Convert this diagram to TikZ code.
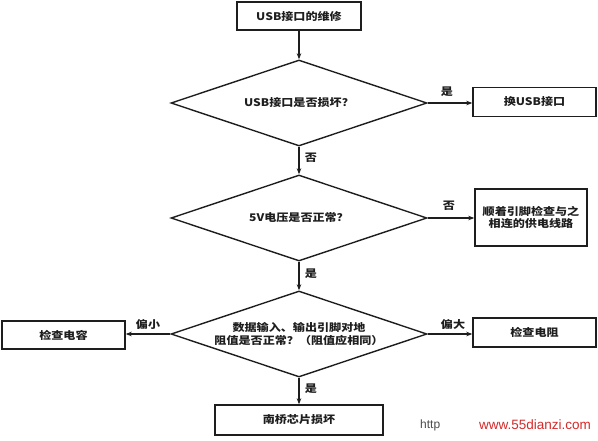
\documentclass[tikz,border=0pt]{standalone}
\usepackage{fontspec}
\setsansfont{Liberation Sans}
\newfontfamily\cjk[FakeStretch=1.15,BoldFeatures={FakeStretch=1.15}]{Noto Sans CJK SC}
\usetikzlibrary{shapes.geometric,arrows.meta}
\definecolor{ink}{HTML}{1E1E1E}
\definecolor{wmred}{HTML}{D42A2A}
\begin{document}
\begin{tikzpicture}[x=1pt,y=-1pt,
  every node/.style={font=\cjk\bfseries\fontsize{10.5pt}{12.5pt}\selectfont, text=ink, inner sep=0pt},
  procbox/.style={draw=ink, line width=1.4pt, rectangle, align=center},
  decision/.style={draw=ink, line width=1.4pt, diamond, aspect=3, minimum width=256pt, minimum height=86pt, align=center},
  flow/.style={draw=ink, line width=1.4pt, -{Stealth[length=6pt,width=4.5pt]}},
  lab/.style={font=\cjk\bfseries\fontsize{10.5pt}{12.5pt}\selectfont}]
\useasboundingbox (0,0) rectangle (598,440);
\fill[white] (0,0) rectangle (598,440);

\node[procbox, minimum width=124pt, minimum height=28pt] (start) at (299,16) {USB接口的维修};
\node[decision] (d1) at (299,103) {USB接口是否损坏？};
\node[procbox, minimum width=123pt, minimum height=29pt] (r1) at (534.5,102) {换USB接口};
\node[decision] (d2) at (299,218) {5V电压是否正常？};
\node[procbox, minimum width=112pt, minimum height=57pt] (r2) at (531,217.5) {顺着引脚检查与之\\相连的供电线路};
\node[decision] (d3) at (299,334) {数据输入、输出引脚对地\\阻值是否正常？（阻值应相同）};
\node[procbox, minimum width=123pt, minimum height=28pt] (l3) at (63.5,335) {检查电容};
\node[procbox, minimum width=123pt, minimum height=29pt] (r3) at (534.5,332.5) {检查电阻};
\node[procbox, minimum width=168pt, minimum height=30pt] (end) at (299,420) {南桥芯片损坏};

\draw[flow] (start) -- (d1);
\draw[flow] (d1.east) -- (r1.west |- d1.east);
\draw[flow] (d1) -- (d2);
\draw[flow] (d2.east) -- (r2.west |- d2.east);
\draw[flow] (d2) -- (d3);
\draw[flow] (d3.west) -- (l3.east |- d3.west);
\draw[flow] (d3.east) -- (r3.west |- d3.east);
\draw[flow] (d3) -- (end);

\node[lab] (y1) at (447,92) {是};
\node[lab] (n1) at (311,158) {否};
\node[lab] (n2) at (449,206) {否};
\node[lab] (y2) at (311,274) {是};
\node[lab] (s3) at (148,324) {偏小};
\node[lab] (b3) at (453,324) {偏大};
\node[lab] (y3) at (311,389) {是};

\node[font=\sffamily\fontsize{12pt}{14pt}\selectfont, text=black!70, anchor=west] (wm1) at (420,425) {http};
\fill[white] (452,412) rectangle (596,440);
\node[font=\sffamily\fontsize{13.5pt}{15pt}\selectfont, text=wmred, anchor=east] (wm2) at (591,425) {www.55dianzi.com};
\end{tikzpicture}
\end{document}
